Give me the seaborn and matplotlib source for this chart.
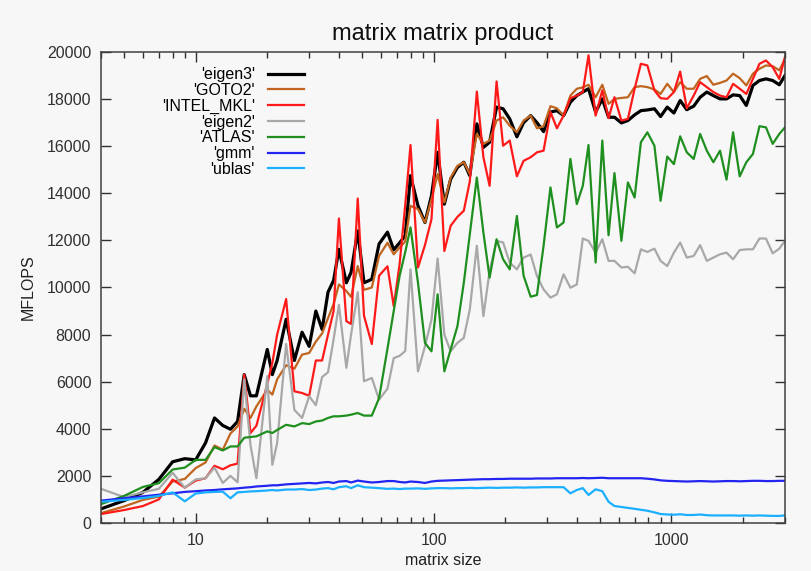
import numpy as np
import pandas as pd
import matplotlib

matplotlib.use("Agg")
import matplotlib.pyplot as plt
import matplotlib.ticker as mticker
import seaborn as sns

# matrix sizes (x axis, log scale)
sizes = [4, 5, 6, 7, 8, 9, 10, 11, 12, 13, 14, 15, 16, 17, 18, 20, 21, 22, 24, 26,
         28, 30, 32, 34, 36, 38, 40, 43, 45, 48, 51, 55, 59, 64, 68, 72, 76, 80, 86, 92,
         98, 104, 111, 118, 126, 134, 142, 152, 162, 172, 184, 196, 209, 224, 239, 256, 272, 290, 310, 330,
         352, 376, 400, 424, 448, 480, 512, 544, 576, 616, 656, 700, 744, 792, 848, 900, 960, 1024, 1088, 1160,
         1240, 1320, 1408, 1500, 1600, 1704, 1816, 1936, 2064, 2200, 2344, 2496, 2664, 2840, 3000]

eigen3 = [600, 950, 1300, 1850, 2600, 2730, 2680, 3400, 4460, 4140, 3980, 4310, 6300, 5400, 5400, 7370, 6300, 6900, 8650, 6900,
          8100, 7500, 9000, 8220, 9800, 10300, 11620, 10200, 10640, 12400, 10200, 10350, 11850, 12350, 11600, 11900, 12200, 14750, 13470, 12760,
          13900, 15740, 13540, 14600, 15100, 15320, 14750, 16950, 15950, 16170, 17660, 17590, 17160, 16400, 17000, 17300, 17000, 16620, 17450, 17510,
          17300, 17870, 18150, 18300, 18440, 17450, 18010, 17230, 17230, 16990, 17090, 17330, 17510, 17540, 17590, 17260, 17660, 17410, 17940, 17550,
          17700, 18080, 18300, 18150, 18010, 18010, 18180, 18150, 17730, 18580, 18790, 18860, 18790, 18610, 19000]

goto2 = [420, 700, 980, 1120, 1760, 1870, 2330, 2570, 3290, 3110, 3800, 4100, 4850, 4460, 4950, 5660, 5450, 6100, 6700, 6550,
         7150, 7220, 7700, 8050, 8700, 9300, 10130, 9850, 9600, 10910, 9900, 10000, 11340, 11900, 11410, 11700, 11950, 13470, 13330, 12760,
         13750, 14820, 13610, 14670, 15170, 15320, 14820, 16520, 16100, 16240, 17090, 17230, 16870, 16590, 17090, 17300, 16760, 16850, 17700, 17610,
         17300, 18150, 18440, 18500, 18610, 18080, 18610, 17800, 18010, 18050, 18080, 18510, 18550, 18510, 18410, 18220, 18650, 18300, 18720, 18440,
         18440, 18860, 18980, 18610, 18690, 18790, 19080, 18890, 18580, 19080, 19290, 19430, 19400, 19220, 19710]

intel_mkl = [380, 550, 720, 1000, 1840, 1500, 1800, 1900, 2430, 2280, 2450, 2520, 6300, 3820, 4130, 5900, 6800, 8000, 9510, 5590,
             5520, 5400, 6900, 6900, 8000, 9000, 12930, 8570, 8450, 13780, 8800, 7600, 10500, 10900, 9210, 11000, 13500, 16050, 10850, 11800,
             12900, 17120, 11550, 12620, 13000, 13260, 14500, 18320, 15530, 14320, 18750, 16020, 16240, 14720, 15380, 15530, 15740, 15810, 17450, 16760,
             17300, 18040, 18150, 18300, 19860, 17300, 18370, 17190, 18080, 17090, 17160, 18440, 19500, 19430, 18370, 18040, 18010, 18300, 19170, 17610,
             18150, 18720, 18510, 18300, 18150, 18080, 18650, 18440, 18220, 18860, 19500, 19640, 19360, 18860, 19790]

eigen2 = [1450, 1100, 1300, 1450, 2130, 1500, 1850, 1900, 2350, 1700, 2000, 1730, 6100, 3300, 1900, 6230, 2470, 3400, 7600, 4800,
          4460, 5380, 5000, 6200, 6400, 7800, 9260, 6590, 8000, 9800, 6020, 6160, 5240, 5700, 7000, 7100, 7300, 10770, 6440, 7500,
          8640, 11230, 8000, 7290, 7650, 7860, 9070, 11770, 8780, 10700, 11980, 11910, 11060, 10770, 11270, 11400, 10490, 9920, 9570, 9710,
          10560, 9990, 10130, 12080, 11980, 11480, 12050, 11130, 11130, 10850, 10880, 10600, 11620, 11510, 11650, 11130, 10910, 11480, 11910, 11270,
          11340, 11800, 11130, 11270, 11410, 11480, 11200, 11590, 11620, 11620, 12080, 12080, 11450, 11650, 11980]

atlas = [800, 1150, 1530, 1690, 2270, 2350, 2680, 2680, 3220, 3080, 3250, 3250, 3620, 3650, 3680, 3890, 3820, 3950, 4170, 4100,
         4240, 4200, 4310, 4350, 4460, 4530, 4530, 4560, 4600, 4670, 4560, 4560, 5300, 7400, 9000, 10500, 11500, 12550, 10200, 7650,
         7290, 9710, 6440, 7370, 8360, 10200, 12260, 14670, 12330, 10420, 12050, 11200, 10770, 13040, 10500, 9610, 9680, 11770, 14250, 12550,
         12760, 15460, 13540, 14320, 16050, 11060, 16240, 12220, 14860, 11980, 14460, 13820, 16170, 16590, 16020, 13680, 15560, 15240, 16420, 15740,
         15460, 16520, 15810, 15320, 15810, 14580, 16590, 14720, 15320, 15670, 16850, 16800, 16100, 16520, 16800]

gmm = [950, 1050, 1130, 1200, 1260, 1320, 1350, 1380, 1400, 1430, 1450, 1470, 1500, 1520, 1550, 1580, 1600, 1600, 1640, 1660,
       1680, 1700, 1680, 1720, 1740, 1700, 1760, 1780, 1720, 1800, 1760, 1720, 1740, 1780, 1780, 1740, 1720, 1760, 1740, 1700,
       1760, 1790, 1800, 1810, 1820, 1830, 1840, 1850, 1860, 1860, 1870, 1870, 1880, 1880, 1880, 1880, 1890, 1890, 1890, 1900,
       1900, 1900, 1900, 1910, 1900, 1910, 1920, 1900, 1900, 1900, 1900, 1900, 1900, 1880, 1850, 1810, 1790, 1780, 1770, 1760,
       1770, 1780, 1770, 1760, 1770, 1780, 1780, 1770, 1780, 1790, 1790, 1780, 1780, 1790, 1790]

ublas = [900, 980, 1060, 1150, 1300, 920, 1250, 1300, 1320, 1330, 1050, 1300, 1320, 1340, 1350, 1380, 1400, 1380, 1420, 1420,
         1440, 1400, 1420, 1460, 1480, 1430, 1520, 1560, 1480, 1600, 1520, 1500, 1480, 1450, 1460, 1440, 1460, 1460, 1470, 1450,
         1470, 1480, 1480, 1470, 1480, 1480, 1490, 1480, 1490, 1500, 1490, 1500, 1500, 1510, 1500, 1510, 1510, 1520, 1520, 1520,
         1520, 1260, 1400, 1480, 1190, 1430, 1350, 900, 720, 680, 640, 600, 560, 520, 450, 380, 360, 350, 370, 340,
         340, 360, 330, 320, 320, 320, 320, 310, 320, 310, 320, 310, 300, 300, 320]

libs = ["'eigen3'", "'GOTO2'", "'INTEL_MKL'", "'eigen2'", "'ATLAS'", "'gmm'", "'ublas'"]
colors = ["#000000", "#c0651f", "#ff1a1a", "#a8a8a8", "#1f8f1f", "#2424f0", "#1ab0ff"]

series = [eigen3, goto2, intel_mkl, eigen2, atlas, gmm, ublas]
df = pd.concat(
    [pd.DataFrame({"size": sizes, "mflops": v, "lib": name}) for name, v in zip(libs, series)],
    ignore_index=True,
)

bg = "#f7f7f7"
plt.rcParams["font.family"] = ["Liberation Sans", "DejaVu Sans"]

fig = plt.figure(figsize=(8.12, 5.71), dpi=100, facecolor=bg)
ax = fig.add_axes([0.1244, 0.0841, 0.8423, 0.8248], facecolor=bg)

widths = {name: (2.3 if name == "'eigen3'" else 1.6) for name in libs}
sns.lineplot(
    data=df, x="size", y="mflops", hue="lib", hue_order=libs,
    palette=dict(zip(libs, colors)), size="lib", sizes=widths, size_order=libs,
    legend=False, ax=ax,
)

ax.set_xscale("log")
ax.set_xlim(4, 3000)
ax.set_ylim(0, 20000)
ax.set_yticks(np.arange(0, 20001, 2000))
ax.xaxis.set_major_locator(mticker.FixedLocator([10, 100, 1000]))
ax.xaxis.set_major_formatter(mticker.FixedFormatter(["10", "100", "1000"]))
ax.xaxis.set_minor_locator(mticker.LogLocator(base=10, subs=np.arange(2, 10)))
ax.xaxis.set_minor_formatter(mticker.NullFormatter())

ax.tick_params(which="both", direction="in", top=True, right=True,
               labelsize=11.5, colors="#303030", pad=7)
ax.tick_params(which="major", length=7, width=1)
ax.tick_params(which="minor", length=4, width=1)
for sp in ax.spines.values():
    sp.set_color("#404040")
    sp.set_linewidth(1.1)

ax.set_xlabel("matrix size", fontsize=11.5, color="#202020", labelpad=4)
ax.set_ylabel("MFLOPS", fontsize=11.5, color="#202020", labelpad=8)
ax.set_title("matrix matrix product", fontsize=17, color="#101010", pad=9)

handles = ax.get_lines()[: len(libs)]
ax.legend(handles, libs, loc="upper right", bbox_to_anchor=(0.316, 0.995),
          frameon=False, markerfirst=False, fontsize=11.5, handlelength=2.3,
          handletextpad=0.8, labelspacing=0.05, borderpad=0.3)

fig.savefig("out.png", dpi=100, facecolor=bg)
